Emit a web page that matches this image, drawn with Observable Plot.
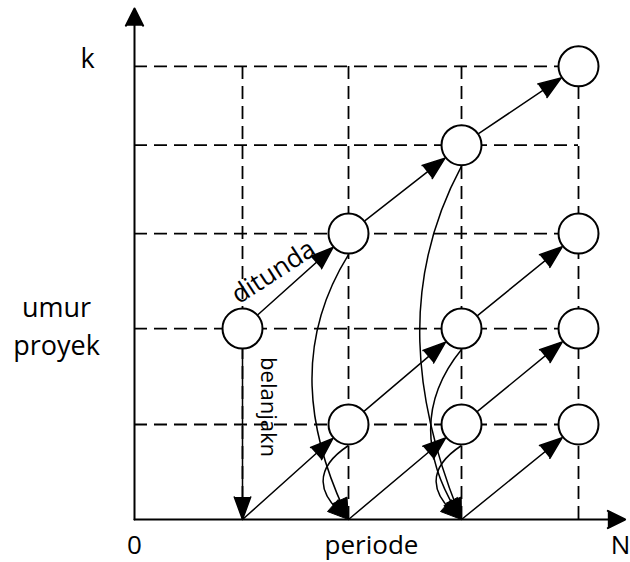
<!DOCTYPE html>
<html>
<head>
<meta charset="utf-8">
<script src="https://cdn.jsdelivr.net/npm/d3@7"></script>
<script src="https://cdn.jsdelivr.net/npm/@observablehq/plot@0.6"></script>
<style>
  html, body { margin: 0; padding: 0; background: #fff; }
</style>
</head>
<body>
<div id="chart"></div>
<script>
// ---- data (in axis units) ----
// period columns: origin 0, then periods 1, 2, 3 and N
const periodCols = [0, 0.973, 1.928, 2.946, 4];
// project-age rows: axis 0, then levels 1 .. k
const ageRows = [0, 1, 2.01, 3.01, 3.94, 4.77];
// axis arrow extents
const axisEndPeriod = 4.42;
const axisEndAge = 5.38;

// decision nodes [column, row]
const nodes = [[1,2],[2,3],[3,4],[4,5],[2,1],[3,1],[3,2],[4,1],[4,2],[4,3]];

// "ditunda" (postpone) arrows node -> node  [c1,r1,c2,r2]
const postponeLinks = [[1,2,2,3],[2,3,3,4],[3,4,4,5],[2,1,3,2],[3,2,4,3],[3,1,4,2]];
// new project started at axis -> node
const startLinks = [[1,0,2,1],[2,0,3,1],[3,0,4,1]];
// "belanjakn" (spend) straight arrow node -> axis
const spendLinks = [[1,2,1,0]];
// curved spend arrows node -> axis
const spendCurves = [[2,3,2,0],[2,1,2,0],[3,4,3,0],[3,2,3,0],[3,1,3,0]];

// labels
const axisLabels = ["0", "periode"];
const axisLabelPos = [0, 2.135];
const axisEndLabel = "N";
const axisEndLabelPos = 4.468;
const ageLabels = ["k", "umur\nproyek"];
const ageLabelRows = [5, 2];

// ---- helpers ----
const R = 21; // circle radius (px) incl. stroke
function bez(a, b) {
  const p0 = [a[0], a[1] + R], p3 = b;
  const dx = p3[0] - p0[0], dy = p3[1] - p0[1], L = Math.hypot(dx, dy);
  const nx = -dy / L, ny = dx / L;
  const h = (20 + 0.06 * L) * 4 / 3;
  const c1 = [p0[0] + dx / 3 + nx * h * 1.15, p0[1] + dy / 3 + ny * h * 1.15];
  const c2 = [p0[0] + 2 * dx / 3 + nx * h * 0.85, p0[1] + 2 * dy / 3 + ny * h * 0.85];
  return [p0, c1, c2, p3];
}
function makeCurve(drawHead) {
  return (ctx) => {
    let pts = [];
    return {
      areaStart() {}, areaEnd() {},
      lineStart() { pts = []; },
      point(x, y) { pts.push([x, y]); },
      lineEnd() {
        const [p0, c1, c2, p3] = bez(pts[0], pts[1]);
        const tx = p3[0] - c2[0], ty = p3[1] - c2[1], l = Math.hypot(tx, ty);
        const ux = tx / l, uy = ty / l;
        const len = 21, hw = 8;
        if (!drawHead) {
          const e = [p3[0] - ux * 10, p3[1] - uy * 10];
          ctx.moveTo(p0[0], p0[1]);
          ctx.bezierCurveTo(c1[0], c1[1], c2[0], c2[1], e[0], e[1]);
        } else {
          const bx = p3[0] - ux * len, by = p3[1] - uy * len;
          ctx.moveTo(p3[0], p3[1]);
          ctx.lineTo(bx - uy * hw, by + ux * hw);
          ctx.lineTo(bx + uy * hw, by - ux * hw);
          ctx.closePath();
        }
      }
    };
  };
}
const X1 = d => periodCols[d[0]], Y1 = d => ageRows[d[1]];
const X2 = d => periodCols[d[2]], Y2 = d => ageRows[d[3]];

const arrowStyle = {stroke: "black", fill: "black", strokeWidth: 1.5, headAngle: 40, headLength: 24};
const dash = {stroke: "black", strokeWidth: 1.8, strokeDasharray: "13,7"};

const plot = Plot.plot({
  width: 630,
  height: 562,
  margin: 0,
  style: {fontFamily: "'Open Sans', sans-serif", background: "white", color: "black"},
  x: {domain: [0, 4], range: [134, 578], axis: null},
  y: {domain: [0, 5], range: [519, 44], axis: null},
  marks: [
    // dashed grid
    Plot.ruleY(ageRows.slice(1), {x1: periodCols[0], x2: periodCols[4], ...dash}),
    Plot.ruleX(periodCols.slice(1), {y1: ageRows[0], y2: ageRows[5], ...dash}),
    // axes
    Plot.arrow([[0, 0, 0, axisEndAge], [0, 0, axisEndPeriod, 0]], {
      x1: d => d[0], y1: d => d[1], x2: d => d[2], y2: d => d[3],
      stroke: "black", fill: "black", strokeWidth: 2, headAngle: 53, headLength: 14.5
    }),
    // straight arrows
    Plot.arrow(postponeLinks, {x1: X1, y1: Y1, x2: X2, y2: Y2, insetStart: R, insetEnd: R, ...arrowStyle}),
    Plot.arrow(startLinks, {x1: X1, y1: Y1, x2: X2, y2: Y2, insetStart: 0, insetEnd: R, ...arrowStyle}),
    Plot.arrow(spendLinks, {x1: X1, y1: Y1, x2: X2, y2: Y2, insetStart: R, insetEnd: 0, ...arrowStyle}),
    // curved arrows
    Plot.link(spendCurves, {x1: X1, y1: Y1, x2: X2, y2: Y2, curve: makeCurve(false), stroke: "black", strokeWidth: 1.5, fill: "none"}),
    Plot.link(spendCurves, {x1: X1, y1: Y1, x2: X2, y2: Y2, curve: makeCurve(true), stroke: "black", strokeWidth: 1, fill: "black", strokeLinejoin: "round"}),
    // nodes
    Plot.dot(nodes, {x: d => periodCols[d[0]], y: d => ageRows[d[1]], r: 20, fill: "white", stroke: "black", strokeWidth: 2}),
    // labels
    Plot.text(axisLabels, {x: (d, i) => axisLabelPos[i], y: ageRows[0], text: d => d, dy: 26, textAnchor: "middle", fontSize: 26, fill: "black"}),
    Plot.text([axisEndLabel], {x: axisEndLabelPos, y: ageRows[0], text: d => d, dy: 26, textAnchor: "end", fontSize: 26, fill: "black"}),
    Plot.text([ageLabels[0]], {x: periodCols[0], y: ageRows[ageLabelRows[0]], text: d => d, dx: -47, dy: -6.5, fontSize: 27, fill: "black"}),
    Plot.text([ageLabels[1]], {x: periodCols[0], y: ageRows[ageLabelRows[1]], text: d => d, dx: -78, dy: -4.5, fontSize: 27, lineHeight: 1.41, fill: "black"}),
    Plot.text(["ditunda"], {x: (periodCols[1] + periodCols[2]) / 2, y: (ageRows[2] + ageRows[3]) / 2, text: d => d, rotate: -33, dx: -22, dy: -9, fontSize: 26, fill: "black"}),
    Plot.text(["belanjakn"], {x: periodCols[1], y: (ageRows[0] + ageRows[2]) / 2, text: d => d, rotate: 90, dx: 26, dy: -17, fontSize: 22, fill: "black"})
  ]
});
document.getElementById("chart").appendChild(plot);
</script>
</body>
</html>
